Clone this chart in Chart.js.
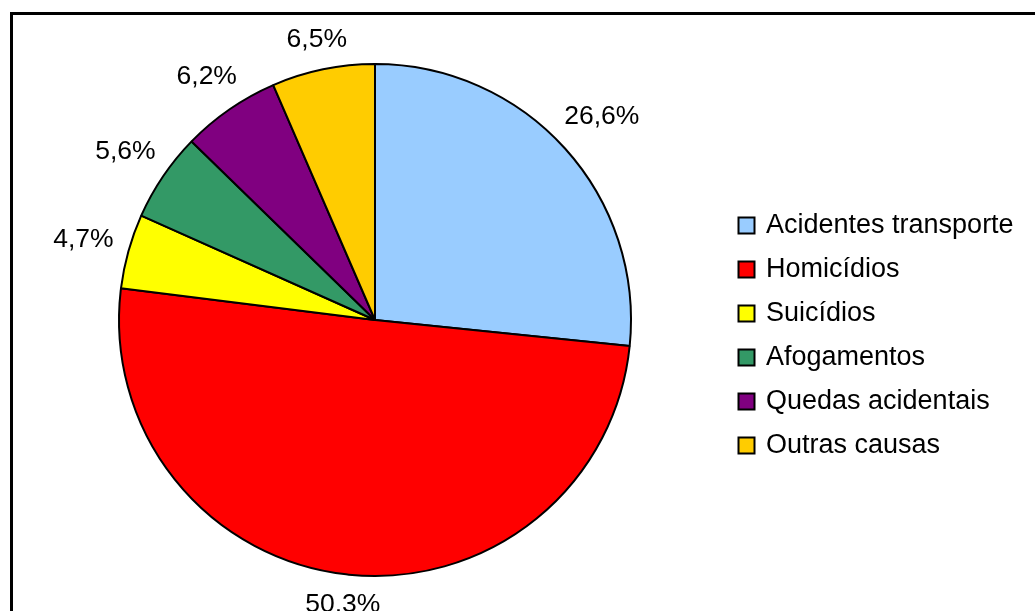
<!DOCTYPE html>
<html>
<head>
<meta charset="utf-8">
<script src="https://cdn.jsdelivr.net/npm/chart.js@4"></script>
<style>
  html, body { margin: 0; padding: 0; background: #fff; overflow: hidden; }
  #frame {
    position: absolute; left: 10px; top: 12px;
    width: 1100px; height: 700px;
    border-left: 3px solid #000; border-top: 3px solid #000;
  }
  #wrap { position: absolute; left: 0; top: 0; width: 1035px; height: 611px; }
</style>
</head>
<body>
<div id="frame"></div>
<div id="wrap"><canvas id="causasChart" width="1035" height="611"></canvas></div>
<script>
const causas = ["Acidentes transporte", "Homicídios", "Suicídios", "Afogamentos", "Quedas acidentais", "Outras causas"];
const percentuais = [26.6, 50.3, 4.7, 5.6, 6.2, 6.5];
const cores = ["#99CCFF", "#FF0000", "#FFFF00", "#339966", "#800080", "#FFCC00"];

const FONT = '"Liberation Sans", Arial, sans-serif';

// percentage labels outside each slice
const outsideLabels = {
  id: "outsideLabels",
  afterDatasetsDraw(chart) {
    const ctx = chart.ctx;
    const meta = chart.getDatasetMeta(0);
    ctx.save();
    ctx.font = "26.5px " + FONT;
    ctx.fillStyle = "#000";
    ctx.textAlign = "center";
    ctx.textBaseline = "middle";
    meta.data.forEach((arc, i) => {
      const p = arc.getProps(["x", "y", "startAngle", "endAngle", "outerRadius"], true);
      const mid = (p.startAngle + p.endAngle) / 2;
      const dx = Math.cos(mid), dy = Math.sin(mid);
      const txt = percentuais[i].toFixed(1).replace(".", ",") + "%";
      const hw = ctx.measureText(txt).width / 2;
      const hh = 10;
      const r = p.outerRadius + 15 + hw * Math.abs(dx) + hh * Math.abs(dy);
      ctx.fillText(txt, p.x + dx * r, p.y + dy * r + 1);
    });
    ctx.restore();
  }
};

// legend on the right
const sideLegend = {
  id: "sideLegend",
  afterDraw(chart) {
    const ctx = chart.ctx;
    ctx.save();
    ctx.font = "27px " + FONT;
    ctx.textBaseline = "middle";
    ctx.textAlign = "left";
    causas.forEach((nome, i) => {
      const y = 225 + i * 44;
      ctx.fillStyle = cores[i];
      ctx.fillRect(738.5, y - 7.5, 16, 16);
      ctx.lineWidth = 2;
      ctx.strokeStyle = "#000";
      ctx.strokeRect(738.5, y - 7.5, 16, 16);
      ctx.fillStyle = "#000";
      ctx.fillText(nome, 766, y + 1);
    });
    ctx.restore();
  }
};

new Chart(document.getElementById("causasChart"), {
  type: "pie",
  data: {
    labels: causas,
    datasets: [{
      data: percentuais,
      backgroundColor: cores,
      borderColor: "#000",
      borderWidth: 2
    }]
  },
  options: {
    responsive: false,
    animation: false,
    radius: 256,
    layout: { padding: { left: 100, right: 385, top: 50, bottom: 21 } },
    plugins: {
      legend: { display: false },
      tooltip: { enabled: false }
    }
  },
  plugins: [outsideLabels, sideLegend]
});
</script>
</body>
</html>
